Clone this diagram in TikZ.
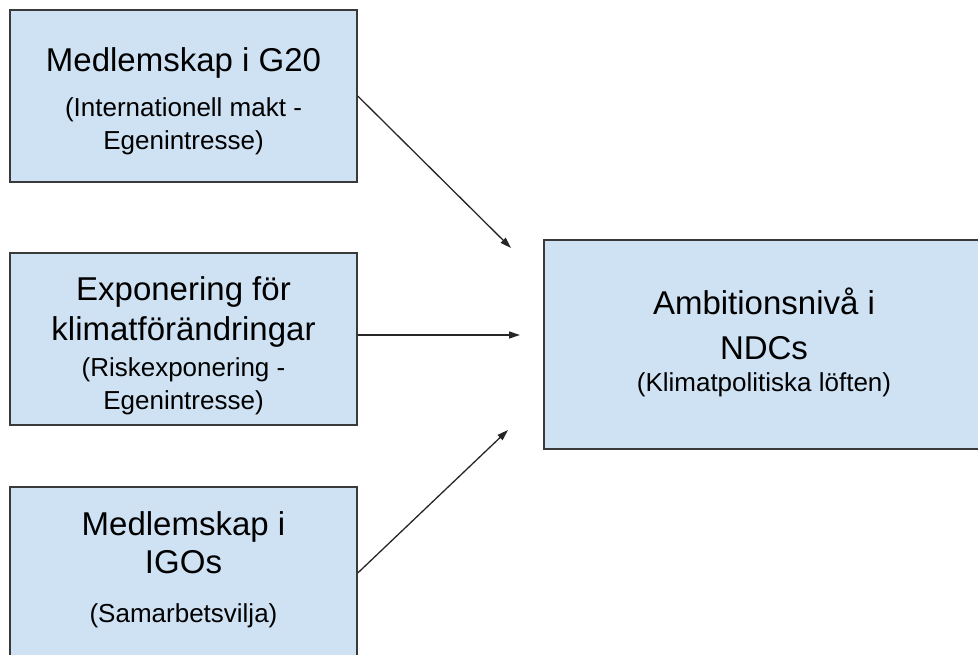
\documentclass[tikz,border=0pt]{standalone}
\usepackage{fontspec}
\setmainfont{Liberation Sans}
\usetikzlibrary{arrows.meta, calc}
\definecolor{boxblue}{HTML}{CFE2F3}
\definecolor{boxline}{HTML}{3A3A3A}
\definecolor{arrowgray}{HTML}{262626}
\newcommand{\ttlfont}{\fontsize{33}{33}\selectfont}
\newcommand{\subfont}{\fontsize{26}{33}\selectfont}

\begin{document}
\begin{tikzpicture}[x=1pt, y=-1pt,
    factor/.style={draw=boxline, fill=boxblue, line width=1.5pt, minimum width=347pt,
      minimum height=172pt, inner sep=0pt, align=center, font=\subfont},
    outcome/.style={factor, minimum width=440pt, minimum height=209pt},
    link/.style={draw=arrowgray, line width=1.3pt, -{Triangle[length=11pt, width=7pt]}}]
  \useasboundingbox (0,0) rectangle (978,655);
  \clip (0,0) rectangle (978,655);
  % drivers on the left
  \node[factor] (g20) at (183.5,96) {{\ttlfont\rule{0pt}{34pt}Medlemskap i G20}\\[12pt](Internationell makt -\\Egenintresse)};
  \node[factor] (expo) at (183.5,339) {{\ttlfont\rule{0pt}{38pt}Exponering för}\\[7pt]{\ttlfont klimatförändringar}\\[3pt](Riskexponering -\\Egenintresse)};
  \node[factor] (igo) at (183.5,573) {{\ttlfont Medlemskap i}\\[5pt]{\ttlfont IGOs}\\[16pt](Samarbetsvilja)\rule[-11.5pt]{0pt}{0pt}};
  % outcome
  \node[outcome] (ndc) at (764,344.5) {{\ttlfont Ambitionsnivå i}\\[12pt]{\ttlfont NDCs}\\[-1pt](Klimatpolitiska löften)\rule[-9.5pt]{0pt}{0pt}};
  \coordinate (in1) at (511,248);
  \coordinate (in2) at (520,335);
  \coordinate (in3) at (508,430);
  \draw[link] (g20.east) -- (in1);
  \draw[link] (expo.east |- in2) -- (in2);
  \draw[link] (igo.east) -- (in3);
\end{tikzpicture}
\end{document}
